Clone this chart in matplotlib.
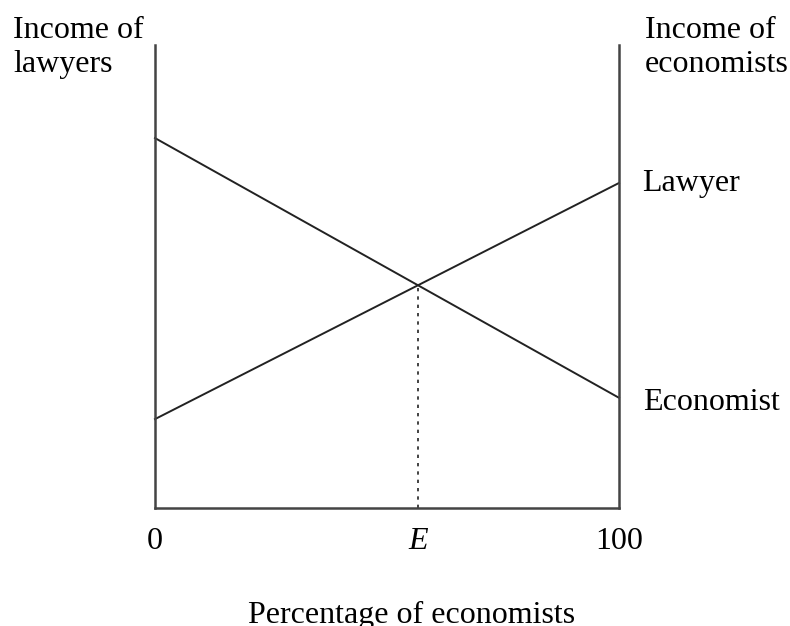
import matplotlib.pyplot as plt

plt.rcParams['font.family'] = 'Liberation Serif'

# data (share of economists, income in arbitrary units)
x_ends = [0, 100]
economist_income = [79.9, 23.8]
lawyer_income = [19.2, 70.2]
x_ticks = [0, 56.7, 100]
x_ticklabels = ['0', 'E', '100']

# intersection of the two lines
slope_e = (economist_income[1] - economist_income[0]) / 100
slope_l = (lawyer_income[1] - lawyer_income[0]) / 100
x_eq = (lawyer_income[0] - economist_income[0]) / (slope_e - slope_l)
y_eq = economist_income[0] + slope_e * x_eq

W, H = 790, 626
fs = 23
fig = plt.figure(figsize=(W / 100, H / 100), dpi=100)
ax = fig.add_axes([155 / W, 118 / H, 464 / W, 463 / H])

col = '#222222'
ax.plot(x_ends, economist_income, color=col, lw=1.4, clip_on=False)
ax.plot(x_ends, lawyer_income, color=col, lw=1.4, clip_on=False)
ax.plot([x_eq, x_eq], [0, y_eq], color=col, lw=1.2, ls=(0, (2, 3)))

ax.set_xlim(0, 100)
ax.set_ylim(0, 100)
ax.spines['top'].set_visible(False)
for s in ['left', 'right', 'bottom']:
    ax.spines[s].set_linewidth(1.8)
    ax.spines[s].set_color('#444444')
ax.set_yticks([])
ax.set_xticks(x_ticks)
ax.set_xticklabels(x_ticklabels)
ax.tick_params(axis='x', length=0, pad=14, labelsize=fs)
ax.get_xticklabels()[1].set_fontstyle('italic')

# x label sits at the very bottom edge, as in the original
fig.text(248 / W, 3 / H, 'Percentage of economists', fontsize=fs,
         ha='left', va='baseline')

# baseline of the last line of each two-line label
fig.text(13 / W, 1 - 72 / H, 'Income of\nlawyers', fontsize=fs,
         ha='left', va='baseline', linespacing=1.25)
fig.text(645 / W, 1 - 72 / H, 'Income of\neconomists', fontsize=fs,
         ha='left', va='baseline', linespacing=1.25)
ax.annotate('Lawyer', (100, lawyer_income[1]), xytext=(17, -6),
            textcoords='offset points', fontsize=fs, ha='left', va='baseline',
            annotation_clip=False)
ax.annotate('Economist', (100, economist_income[1]), xytext=(17, -9),
            textcoords='offset points', fontsize=fs, ha='left', va='baseline',
            annotation_clip=False)

fig.savefig('out.png', dpi=100)
